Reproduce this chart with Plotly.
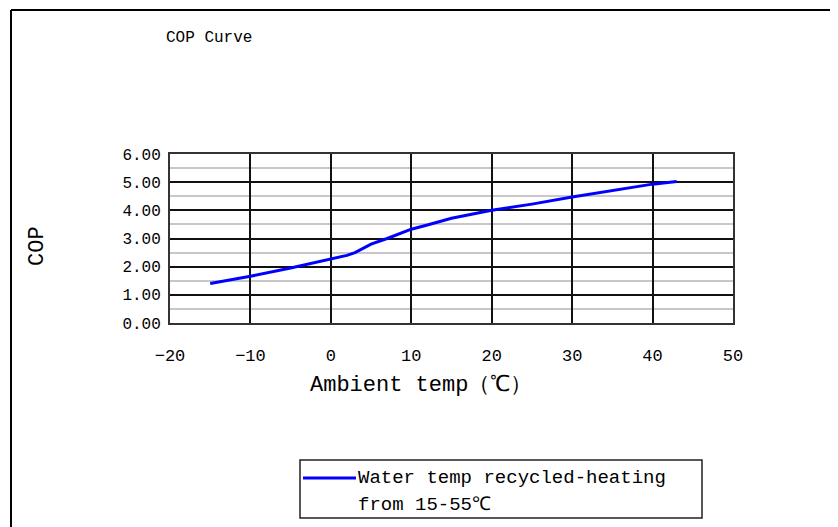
import plotly.graph_objects as go

ambient_temp = [-15, -10, -5, 0, 2, 3, 5, 7, 10, 12, 15, 20, 25, 30, 35, 40, 43]
cop_values = [1.40, 1.66, 1.95, 2.28, 2.40, 2.50, 2.80, 3.00, 3.33, 3.48, 3.72, 4.00, 4.22, 4.47, 4.70, 4.93, 5.02]
x_ticks = [-20, -10, 0, 10, 20, 30, 40, 50]
y_ticks = [0, 1, 2, 3, 4, 5, 6]
y_tick_labels = ["0.00", "1.00", "2.00", "3.00", "4.00", "5.00", "6.00"]

W, H = 838, 527
OFF = 8  # page body margin
L, R, T, B = 170, 733, 154, 323  # plot area in screen px
FONT = "Liberation Mono"

def px_x(p):
    return (p - L) / (R - L)

def px_y(p):
    return (B - p) / (B - T)

fig = go.Figure()
fig.add_trace(go.Scatter(
    x=ambient_temp, y=cop_values, mode="lines",
    line=dict(color="#0000FF", width=3), showlegend=False,
    name="Water temp recycled-heating from 15-55℃",
))

fig.update_layout(
    width=W, height=H,
    margin=dict(l=L - OFF, r=W - (R - OFF), t=T - OFF, b=H - (B - OFF), pad=0),
    paper_bgcolor="white", plot_bgcolor="white",
    font=dict(family=FONT, color="black"),
    showlegend=False,
)
fig.update_xaxes(
    range=[-20, 50], tickvals=x_ticks, ticktext=[str(v).replace("-", "−") for v in x_ticks],
    showgrid=True, gridcolor="#111111", gridwidth=1.5,
    showline=True, linecolor="#333333", linewidth=2, mirror=True,
    zeroline=False, ticks="", tickfont=dict(size=17, family=FONT),
    ticklabelstandoff=16, fixedrange=True,
)
fig.update_yaxes(
    range=[0, 6], tickvals=y_ticks, ticktext=y_tick_labels,
    showgrid=True, gridcolor="#111111", gridwidth=1.5,
    minor=dict(dtick=0.5, showgrid=True, gridcolor="#c8c8c8", gridwidth=1.5),
    showline=True, linecolor="#333333", linewidth=2, mirror=True,
    zeroline=False, ticks="", tickfont=dict(size=16, family=FONT),
    ticklabelstandoff=4, fixedrange=True,
)

shapes = [
    # outer frame (left and top edges)
    dict(type="line", xref="paper", yref="paper", x0=px_x(11), x1=px_x(11), y0=px_y(10), y1=px_y(560),
         line=dict(color="black", width=2)),
    dict(type="line", xref="paper", yref="paper", x0=px_x(11), x1=px_x(870), y0=px_y(10), y1=px_y(10),
         line=dict(color="black", width=2)),
    # legend box
    dict(type="rect", xref="paper", yref="paper", x0=px_x(300), x1=px_x(702), y0=px_y(460), y1=px_y(518),
         line=dict(color="#222222", width=1.5), fillcolor="white"),
    dict(type="line", xref="paper", yref="paper", x0=px_x(303), x1=px_x(356), y0=px_y(478), y1=px_y(478),
         line=dict(color="#0000FF", width=3)),
]
fig.update_layout(shapes=shapes)

annotations = [
    dict(text="COP Curve", x=px_x(164), y=px_y(38), xanchor="left", yanchor="middle",
         font=dict(size=16, family=FONT)),
    dict(text="Ambient temp（℃）", x=px_x(421), y=px_y(385), xanchor="center", yanchor="middle",
         font=dict(size=22, family=FONT)),
    dict(text="COP", x=px_x(37), y=px_y(246), xanchor="center", yanchor="middle", textangle=-90,
         font=dict(size=22, family=FONT)),
    dict(text="Water temp recycled-heating", x=px_x(356), y=px_y(478), xanchor="left", yanchor="middle",
         font=dict(size=19, family=FONT)),
    dict(text="from 15-55℃", x=px_x(356), y=px_y(505), xanchor="left", yanchor="middle",
         font=dict(size=19, family=FONT)),
]
for a in annotations:
    a.update(xref="paper", yref="paper", showarrow=False)
fig.update_layout(annotations=annotations)

fig.write_html("out.html")
